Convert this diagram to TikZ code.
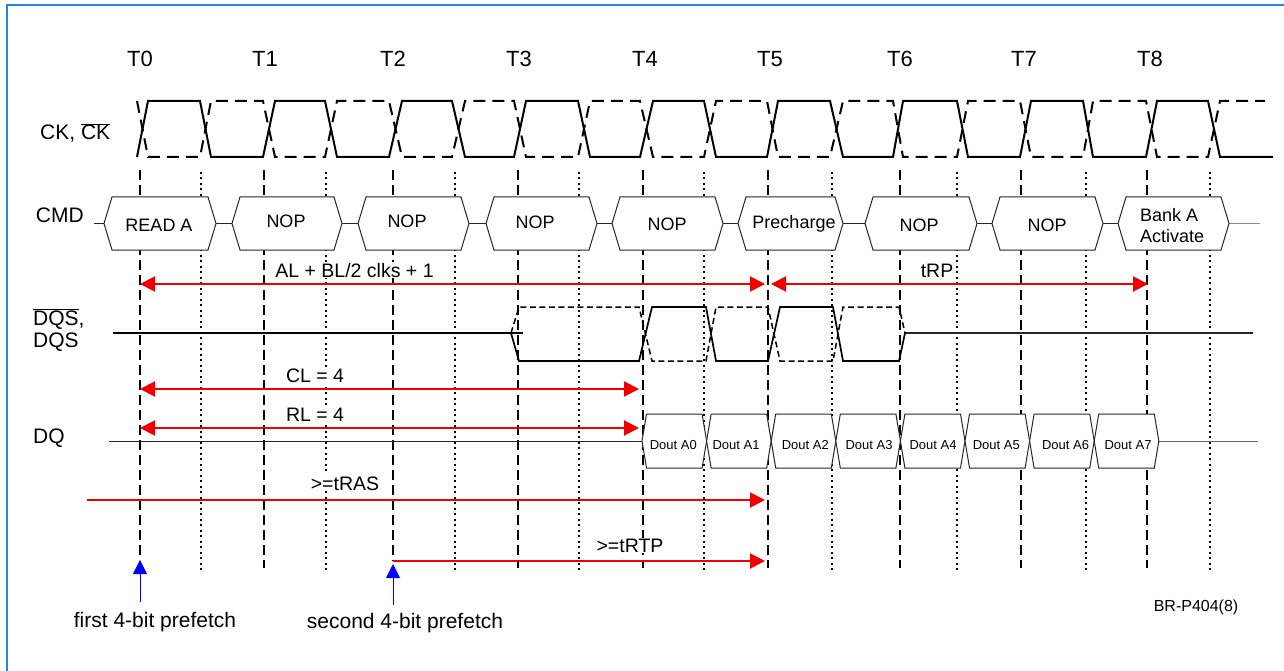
\documentclass[tikz,border=0pt]{standalone}
\usepackage{fontspec}
\setmainfont{Liberation Sans}
\usetikzlibrary{arrows.meta}
\definecolor{frameblue}{RGB}{30,136,229}
\definecolor{arrred}{RGB}{240,0,0}
\definecolor{arrblue}{RGB}{0,0,255}
\newcommand\ovl[1]{$\overline{\mbox{#1}}$}
\tikzset{
  tline/.style={line width=1.3pt, dash pattern=on 10pt off 5pt},
  hline/.style={line width=1.3pt, dash pattern=on 2pt off 3.5pt},
  cksolid/.style={line width=2pt, line join=miter},
  ckdash/.style={line width=2pt, dash pattern=on 12pt off 7pt},
  dqssolid/.style={line width=1.7pt},
  dqsdash/.style={line width=1.5pt, dash pattern=on 6pt off 3.5pt},
  wire/.style={line width=1pt, draw=black!85},
  cbox/.style={line width=1pt, draw=black!85, fill=white},
  sidelbl/.style={font=\fontsize{21}{24}\selectfont, inner sep=0pt, anchor=base west},
  tlbl/.style={font=\fontsize{22}{26}\selectfont, inner sep=0pt, anchor=base},
  ctext/.style={font=\fontsize{18}{21}\selectfont, inner sep=0pt, anchor=base},
  dtext/.style={font=\fontsize{13}{15}\selectfont, inner sep=0pt, anchor=base},
  alabel/.style={font=\fontsize{19.5}{22}\selectfont, fill=white, inner sep=1pt, anchor=base},
  blabel/.style={font=\fontsize{21}{24}\selectfont, inner sep=0pt, anchor=base},
  redarr/.style={draw=arrred, line width=2pt},
  redtip/.style={-{Triangle[length=15pt,width=15pt]}},
  redboth/.style={{Triangle[length=15pt,width=15pt]}-{Triangle[length=15pt,width=15pt]}},
  bluearr/.style={draw=arrblue, line width=1pt, fill=arrblue, -{Triangle[length=14pt,width=14pt]}}
}
\begin{document}
\begin{tikzpicture}[x=1pt,y=-1pt]
\useasboundingbox (0,0) rectangle (1284,671);
% frame
\draw[frameblue, line width=1.3pt] (7,671) -- (7,5) -- (1284,5);

% vertical timing lines
\foreach \x in {264,518,643,768,900,1021,1147}
  \draw[tline] (\x,170) -- (\x,568);
\draw[tline] (140,170) -- (140,560);
\draw[tline] (393,170) -- (393,561);
\foreach \x in {201,326,455,579,704,832,957,1086,1210}
  \draw[hline] (\x,172) -- (\x,571);

% time labels
\node[tlbl] (t0) at (140,66.5) {T0};
\node[tlbl] (t1) at (265,66.5) {T1};
\node[tlbl] (t2) at (393,66.5) {T2};
\node[tlbl] (t3) at (519,66.5) {T3};
\node[tlbl] (t4) at (645,66.5) {T4};
\node[tlbl] (t5) at (770,66.5) {T5};
\node[tlbl] (t6) at (900,66.5) {T6};
\node[tlbl] (t7) at (1024,66.5) {T7};
\node[tlbl] (t8) at (1150,66.5) {T8};

% side labels
\node[sidelbl] (ckl) at (40,140) {CK, \ovl{CK}};
\node[sidelbl] (cmdl) at (35.7,222.7) {CMD};
\node[sidelbl] (dqsl1) at (33,325.5) {\ovl{DQS},};
\node[sidelbl] (dqsl2) at (33,347) {DQS};
\node[sidelbl] (dql) at (33,443) {DQ};

% clock CK (solid) and CK# (dashed)
\draw[cksolid] (137,157) -- (148,101) -- (200,101) -- (211,157) -- (263,157) -- (275,101)
  -- (325,101) -- (337,157) -- (389,157) -- (402,101) -- (452,101) -- (465,157)
  -- (514,157) -- (526,101) -- (578,101) -- (590,157) -- (640,157) -- (653,101)
  -- (704,101) -- (716,157) -- (767,157) -- (778,101) -- (830,101) -- (843,157)
  -- (893,157) -- (903,101) -- (957,101) -- (968,157) -- (1020,157) -- (1031,101)
  -- (1083,101) -- (1093,157) -- (1146,157) -- (1157,101) -- (1208,101) -- (1220,157)
  -- (1273,157);
\draw[ckdash] (137,101) -- (148,157) -- (200,157) -- (211,101) -- (263,101) -- (275,157)
  -- (325,157) -- (337,101) -- (389,101) -- (402,157) -- (452,157) -- (465,101)
  -- (514,101) -- (526,157) -- (578,157) -- (590,101) -- (640,101) -- (653,157)
  -- (704,157) -- (716,101) -- (767,101) -- (778,157) -- (830,157) -- (843,101)
  -- (893,101) -- (903,157) -- (957,157) -- (968,101) -- (1020,101) -- (1031,157)
  -- (1083,157) -- (1093,101) -- (1146,101) -- (1157,157) -- (1208,157) -- (1220,101)
  -- (1265,101);

% CMD bus
\draw[wire] (94,223.5) -- (1229,223.5);
\draw[wire, draw=black!45] (1229,223.5) -- (1260,223.5);
\foreach \xl/\xr in {104/216,232/342,358/469,486/597,612/723,738/843,865/977,992/1103,1118/1229}
  \filldraw[cbox] (\xl,223.5) -- (\xl+8,197) -- (\xr-8,197) -- (\xr,223.5) -- (\xr-8,250) -- (\xl+8,250) -- cycle;
\node[ctext] (c1) at (159,231.5) {READ A};
\node[ctext] (c2) at (286,227.5) {NOP};
\node[ctext] (c3) at (407,227.5) {NOP};
\node[ctext] (c4) at (535,228.3) {NOP};
\node[ctext] (c5) at (667,230) {NOP};
\node[ctext] (c6) at (794,228.3) {Precharge};
\node[ctext] (c7) at (919,231.7) {NOP};
\node[ctext] (c8) at (1047,231.7) {NOP};
\node[ctext, anchor=base west] (c9a) at (1140,221.7) {Bank A};
\node[ctext, anchor=base west] (c9b) at (1140,242.7) {Activate};

% DQS
\draw[line width=1.3pt] (113,333) -- (523,333);
\draw[line width=1.1pt, draw=black!85] (905,333) -- (1253,333);
\draw[dqssolid] (511,333) -- (519,361) -- (639,361) -- (652,307) -- (706,307) -- (716,361)
  -- (768,361) -- (780,307) -- (833,307) -- (843,361) -- (899,361) -- (905,333);
\draw[dqsdash] (511,333) -- (519,307) -- (639,307) -- (652,361) -- (706,361) -- (716,307)
  -- (768,307) -- (780,361) -- (833,361) -- (843,307) -- (899,307) -- (905,333);

% DQ bus
\draw[wire] (109,441) -- (642,441);
\draw[wire, draw=black!60] (1159,441) -- (1258,441);
\foreach \i in {0,...,7}{
  \pgfmathsetmacro\xl{642+64.6*\i}
  \pgfmathsetmacro\xr{642+64.6*(\i+1)}
  \filldraw[cbox] (\xl,441) -- (\xl+4.5,414) -- (\xr-4.5,414) -- (\xr,441) -- (\xr-4.5,468) -- (\xl+4.5,468) -- cycle;
}
\node[dtext] (d0) at (673.3,449) {Dout A0};
\node[dtext] (d1) at (736,449) {Dout A1};
\node[dtext] (d2) at (805.3,449) {Dout A2};
\node[dtext] (d3) at (869,449) {Dout A3};
\node[dtext] (d4) at (933,449) {Dout A4};
\node[dtext] (d5) at (996.3,449) {Dout A5};
\node[dtext] (d6) at (1065.5,449) {Dout A6};
\node[dtext] (d7) at (1128,449) {Dout A7};

% red timing arrows
\coordinate (al0) at (140,284);
\coordinate (al1) at (765,284);
\coordinate (rp0) at (771,284);
\coordinate (rp1) at (1148,284);
\coordinate (cl0) at (140,389);
\coordinate (cl1) at (639,389);
\coordinate (rl0) at (140,428);
\coordinate (rl1) at (639,428);
\coordinate (ras0) at (87,500);
\coordinate (ras1) at (765,500);
\coordinate (rtp0) at (393,561);
\coordinate (rtp1) at (765,561);
\draw[redarr, redboth] (al0) -- (al1);
\draw[redarr, redboth] (rp0) -- (rp1);
\draw[redarr, redboth] (cl0) -- (cl1);
\draw[redarr, redboth] (rl0) -- (rl1);
\draw[redarr, redtip] (ras0) -- (ras1);
\draw[redarr, redtip] (rtp0) -- (rtp1);
\node[alabel] (lal) at (354.5,277) {AL + BL/2 clks + 1};
\node[alabel] (lrp) at (937,277) {tRP};
\node[alabel] (lcl) at (315,382) {CL = 4};
\node[alabel] (lrl) at (315,421) {RL = 4};
\node[alabel] (lras) at (345,490) {>=tRAS};
\node[alabel] (lrtp) at (630,552) {>=tRTP};

% prefetch markers
\node[blabel] (pf1) at (155,627.3) {first 4-bit prefetch};
\node[blabel] (pf2) at (405,628) {second 4-bit prefetch};
\coordinate (pa0) at (140,602);
\coordinate (pa1) at (140,560);
\coordinate (pb0) at (393,605);
\coordinate (pb1) at (393,564);
\draw[bluearr] (pa0) -- (pa1);
\draw[bluearr] (pb0) -- (pb1);

\node[font=\fontsize{16}{19}\selectfont, inner sep=0pt, anchor=base] (ref) at (1196,611.7) {BR-P404(8)};
\end{tikzpicture}
\end{document}
